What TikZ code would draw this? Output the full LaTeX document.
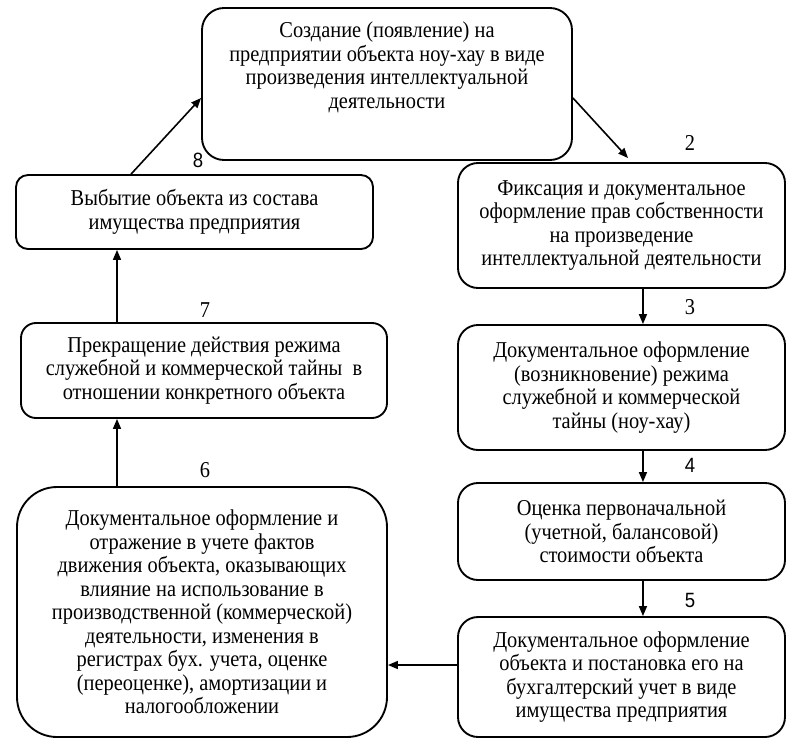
\documentclass[tikz,border=0pt]{standalone}
\usepackage{fontspec}
\setmainfont{Liberation Serif}[FakeStretch=0.9]
\newfontfamily\numsans{Liberation Sans}[FakeStretch=0.9]
\usetikzlibrary{arrows.meta}
\begin{document}
\begin{tikzpicture}[x=0.75pt,y=-0.75pt,
  box/.style={draw, line width=1.4pt, rounded corners=#1, inner sep=0pt},
  box/.default=15pt,
  txt/.style={align=center, inner sep=0pt, font=\fontsize{17}{17.6}\selectfont},
  num/.style={inner sep=0pt, font=\fontsize{17}{18}\selectfont},
  numsf/.style={inner sep=0pt, font=\fontsize{15.5}{18}\numsans},
  arr/.style={line width=1.2pt, -{Triangle[length=7.5pt,width=6pt]}}
]
\fill[white] (0,0) rectangle (803,754);
\useasboundingbox (0,0) rectangle (803,754);

\node[box=16.5pt, minimum width=277.5pt, minimum height=114pt] (b1) at (387,84) {};
\node[txt] (t1) at (387,67.5) {Создание (появление) на\\предприятии объекта ноу-хау в виде\\произведения интеллектуальной\\деятельности};

\node[box, txt, minimum width=245.25pt, minimum height=93.75pt] (b2) at (621.5,225.5)
  {Фиксация и документальное\\оформление прав собственности\\на произведение\\интеллектуальной деятельности};
\node[box, txt, minimum width=245.25pt, minimum height=93.75pt] (b3) at (621.5,387.5)
  {Документальное оформление\\(возникновение) режима\\служебной и коммерческой\\тайны (ноу-хау)};
\node[box, txt, minimum width=245.25pt, minimum height=72.75pt] (b4) at (621.5,531.5)
  {Оценка первоначальной\\(учетной, балансовой)\\стоимости объекта};
\node[box, txt, minimum width=245.25pt, minimum height=90pt] (b5) at (621.5,677)
  {Документальное оформление\\объекта и постановка его на\\бухгалтерский учет в виде\\имущества предприятия};
\node[box=30pt, txt, minimum width=277.5pt, minimum height=187.5pt] (b6) at (202,612)
  {Документальное оформление и\\отражение в учете фактов\\движения объекта, оказывающих\\влияние на использование в\\производственной (коммерческой)\\деятельности, изменения в\\регистрах бух. учета, оценке\\(переоценке), амортизации и\\налогообложении};
\node[box=11.25pt, txt, minimum width=274.5pt, minimum height=71.25pt] (b7) at (204,370.5)
  {Прекращение действия режима\\служебной и коммерческой тайны~ в\\отношении конкретного объекта};
\node[box=9pt, txt, minimum width=267.75pt, minimum height=55.5pt] (b8) at (194.5,212)
  {Выбытие объекта из состава\\имущества предприятия};

\draw[arr] ([yshift=-10.5pt]b1.east) -- ([xshift=4.9pt,yshift=3pt]b2.north);
\draw[arr] ([xshift=16.1pt]b2.south) -- ([xshift=16.1pt]b3.north);
\draw[arr] ([xshift=16.1pt]b3.south) -- ([xshift=16.1pt]b4.north);
\draw[arr] ([xshift=16.1pt]b4.south) -- ([xshift=16.1pt]b5.north);
\draw[arr] ([yshift=9pt]b5.west) -- ([yshift=-39.75pt]b6.east);
\draw[arr] ([xshift=-63.75pt]b6.north) -- ([xshift=-65.25pt]b7.south);
\draw[arr] ([xshift=-65.25pt]b7.north) -- ([xshift=-58.125pt]b8.south);
\draw[arr] ([xshift=87pt]b8.north west) -- ([yshift=-10.5pt]b1.west);

\node[num] (n2) at (690,143) {2};
\node[num] (n3) at (690,307) {3};
\node[numsf] (n4) at (690,465) {4};
\node[numsf] (n5) at (690,600) {5};
\node[num] (n6) at (205,470) {6};
\node[num] (n7) at (205,310) {7};
\node[numsf] (n8) at (198,160) {8};
\end{tikzpicture}
\end{document}
